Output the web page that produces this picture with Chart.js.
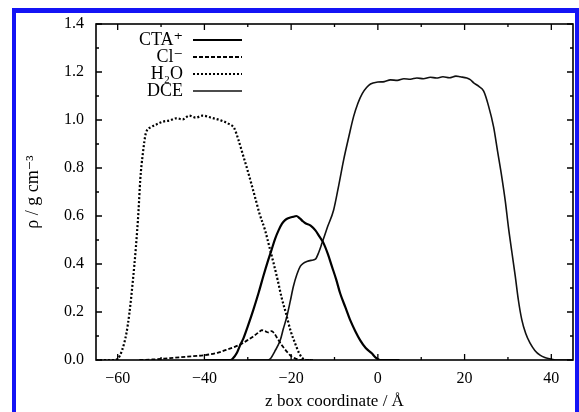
<!DOCTYPE html>
<html>
<head>
<meta charset="utf-8">
<script src="https://cdn.jsdelivr.net/npm/chart.js@4.4.0/dist/chart.umd.min.js"></script>
<style>
html, body { margin: 0; padding: 0; background: #fff; overflow: hidden; }
#wrap { position: relative; width: 579px; height: 412px; }
#frame { position: absolute; left: 12px; top: 8px; width: 559px; height: 420px;
         border: 4px solid #1414f5; border-top-width: 5px; border-bottom: none; }
#myChart { position: absolute; left: 0; top: 0; }
</style>
</head>
<body>
<div id="wrap">
  <div id="frame"></div>
  <canvas id="myChart" width="579" height="412"></canvas>
</div>
<script>
// density profiles (z in Å, rho in g/cm3)
var h2oZ = [-65, -61, -60, -59, -58, -57.3, -56.5, -55.8, -55.2, -54.8, -54.2, -53.5, -52.3, -51, -49.6, -48, -46.5, -45, -43.5, -42, -40.4, -38.5, -36.5, -34.5, -33.1, -32.2, -31.2, -30.2, -29.2, -28.2, -27.3, -26, -25, -24, -23.1, -22.2, -21.2, -20.1, -19.1, -18.2, -17.5, -16.5, -15];
var h2oRho = [0, 0, 0.005, 0.04, 0.11, 0.195, 0.33, 0.47, 0.62, 0.75, 0.86, 0.945, 0.97, 0.982, 0.993, 0.998, 1.007, 1.003, 1.018, 1.01, 1.018, 1.01, 1.0, 0.985, 0.965, 0.92, 0.86, 0.8, 0.736, 0.67, 0.61, 0.54, 0.47, 0.4, 0.333, 0.26, 0.195, 0.12, 0.07, 0.03, 0.01, 0, 0];

var clZ = [-55, -52, -48, -44, -40, -37, -35, -33, -31, -29, -27.5, -26.8, -26, -25.3, -24.5, -23.8, -23, -22, -21, -20, -19, -18, -15];
var clRho = [0, 0.002, 0.008, 0.014, 0.02, 0.03, 0.042, 0.055, 0.072, 0.095, 0.115, 0.124, 0.12, 0.115, 0.12, 0.108, 0.085, 0.058, 0.035, 0.016, 0.006, 0, 0];

var ctaZ = [-40, -34, -33.5, -32.5, -31.8, -31, -30, -28.7, -27.5, -26.4, -25.4, -24.5, -23.7, -22.9, -22.1, -21.4, -20.5, -19.5, -18.8, -18, -17.3, -16.7, -15.5, -14.4, -13.5, -12.5, -11.5, -10.6, -9.6, -8.7, -7.5, -6.4, -5.2, -4.1, -2.8, -1.4, -0.5, 0.5, 5];
var ctaRho = [0, 0, 0.005, 0.03, 0.06, 0.09, 0.14, 0.21, 0.28, 0.35, 0.41, 0.46, 0.505, 0.54, 0.568, 0.583, 0.592, 0.597, 0.6, 0.59, 0.578, 0.57, 0.56, 0.54, 0.515, 0.486, 0.44, 0.39, 0.335, 0.278, 0.22, 0.167, 0.12, 0.083, 0.05, 0.028, 0.01, 0, 0];

var dceZ = [-30, -25.5, -24.8, -23.8, -22.5, -21.8, -21, -20.2, -19.5, -18.7, -17.9, -17.2, -16.4, -15.4, -14.4, -13.6, -12.9, -11.6, -10.2, -9, -7.9, -6.7, -5.6, -4.6, -3.6, -2.6, -1.7, 0, 1.5, 2.9, 4.5, 6, 7.5, 9, 10.5, 12.1, 13.5, 15, 16.5, 18, 19, 20.5, 21.3, 22.1, 23.3, 24.4, 25.5, 26.7, 27.6, 28.6, 29.4, 30.1, 30.9, 31.7, 32.4, 33.2, 34.1, 35.1, 36.2, 37.4, 38.5, 39.7, 41, 45];
var dceRho = [0, 0, 0.005, 0.035, 0.083, 0.13, 0.18, 0.245, 0.305, 0.355, 0.39, 0.403, 0.41, 0.415, 0.42, 0.45, 0.486, 0.555, 0.625, 0.73, 0.833, 0.93, 1.014, 1.07, 1.11, 1.135, 1.15, 1.158, 1.16, 1.167, 1.165, 1.172, 1.17, 1.175, 1.172, 1.178, 1.175, 1.18, 1.176, 1.183, 1.18, 1.175, 1.168, 1.155, 1.14, 1.12, 1.06, 0.97, 0.87, 0.76, 0.66, 0.555, 0.45, 0.347, 0.25, 0.167, 0.11, 0.07, 0.04, 0.02, 0.01, 0.005, 0, 0];

var xTicks = [-60, -40, -20, 0, 20, 40];
var xMinor = [-50, -30, -10, 10, 30];
var yTicks = [0, 0.2, 0.4, 0.6, 0.8, 1.0, 1.2, 1.4];
var yMinor = [0.1, 0.3, 0.5, 0.7, 0.9, 1.1, 1.3];

function pts(zs, vals) {
    return zs.map(function (z, i) { return { x: z, y: vals[i] }; });
}

var serif = "'Liberation Serif', 'DejaVu Serif', serif";

// frame with inward ticks on all four sides (gnuplot look)
var framePlugin = {
    id: 'frame',
    afterDatasetsDraw: function (chart) {
        var ctx = chart.ctx, a = chart.chartArea;
        var xs = chart.scales.x, ys = chart.scales.y;
        ctx.save();
        ctx.strokeStyle = '#000';
        ctx.lineWidth = 1.6;
        ctx.strokeRect(a.left, a.top, a.right - a.left, a.bottom - a.top);
        ctx.lineWidth = 1.3;
        ctx.beginPath();
        function xt(v, len) {
            var p = xs.getPixelForValue(v);
            ctx.moveTo(p, a.bottom); ctx.lineTo(p, a.bottom - len);
            ctx.moveTo(p, a.top); ctx.lineTo(p, a.top + len);
        }
        function yt(v, len) {
            var p = ys.getPixelForValue(v);
            ctx.moveTo(a.left, p); ctx.lineTo(a.left + len, p);
            ctx.moveTo(a.right, p); ctx.lineTo(a.right - len, p);
        }
        xTicks.forEach(function (v) { xt(v, 6); });
        xMinor.forEach(function (v) { xt(v, 3); });
        yTicks.forEach(function (v) { yt(v, 6); });
        yMinor.forEach(function (v) { yt(v, 3); });
        ctx.stroke();
        ctx.restore();
    }
};

// legend: label right-aligned, line sample to its right
var legendPlugin = {
    id: 'keybox',
    afterDatasetsDraw: function (chart) {
        var ctx = chart.ctx;
        ctx.save();
        ctx.font = '18px ' + serif;
        ctx.textAlign = 'right';
        ctx.textBaseline = 'middle';
        chart.data.datasets.forEach(function (ds, i) {
            var y = 40 + i * 17;
            ctx.fillStyle = '#000';
            ctx.fillText(ds.label, 183, y);
            ctx.strokeStyle = ds.borderColor;
            ctx.lineWidth = ds.borderWidth;
            ctx.setLineDash(ds.borderDash || []);
            ctx.beginPath();
            ctx.moveTo(193, y);
            ctx.lineTo(242, y);
            ctx.stroke();
        });
        ctx.restore();
    }
};

document.addEventListener('DOMContentLoaded', function () {
    var data = {
        datasets: [
            { label: 'CTA\u207A', data: pts(ctaZ, ctaRho), borderColor: '#000', borderWidth: 2.2 },
            { label: 'Cl\u207B', data: pts(clZ, clRho), borderColor: '#000', borderWidth: 1.8, borderDash: [4, 2] },
            { label: 'H\u2082O', data: pts(h2oZ, h2oRho), borderColor: '#000', borderWidth: 2.2, borderDash: [2, 2] },
            { label: 'DCE', data: pts(dceZ, dceRho), borderColor: '#111', borderWidth: 1.6 }
        ]
    };

    var options = {
        responsive: false,
        animation: false,
        layout: { padding: { top: 24, right: 6, left: 0, bottom: 0 } },
        elements: { point: { radius: 0 }, line: { tension: 0.3, cubicInterpolationMode: 'monotone' } },
        plugins: { legend: { display: false }, tooltip: { enabled: false } },
        scales: {
            x: {
                type: 'linear', min: -65, max: 45,
                grid: { display: false, drawTicks: false }, border: { display: false },
                afterBuildTicks: function (s) { s.ticks = xTicks.map(function (v) { return { value: v }; }); },
                afterFit: function (s) { s.height = 52; },
                ticks: {
                    padding: 9, color: '#000', maxRotation: 0,
                    font: { family: serif, size: 16 },
                    callback: function (v) { return v < 0 ? '\u2212' + Math.abs(v) : String(v); }
                },
                title: {
                    display: true, text: 'z box coordinate / \u00C5', color: '#000',
                    font: { family: serif, size: 17 }, padding: { top: 0, bottom: 0 }
                }
            },
            y: {
                min: 0, max: 1.4,
                grid: { display: false, drawTicks: false }, border: { display: false },
                afterBuildTicks: function (s) { s.ticks = yTicks.map(function (v) { return { value: v }; }); },
                afterFit: function (s) { s.width = 96; },
                ticks: {
                    padding: 12, color: '#000',
                    font: { family: serif, size: 16 },
                    callback: function (v) { return Number(v).toFixed(1); }
                },
                title: {
                    display: true, text: '\u03C1 / g cm\u207B\u00B3', color: '#000',
                    font: { family: serif, size: 18 }, padding: { top: 22, bottom: 0 }
                }
            }
        }
    };

    var ctx = document.getElementById('myChart').getContext('2d');
    new Chart(ctx, { type: 'line', data: data, options: options, plugins: [framePlugin, legendPlugin] });
});
</script>
</body>
</html>
